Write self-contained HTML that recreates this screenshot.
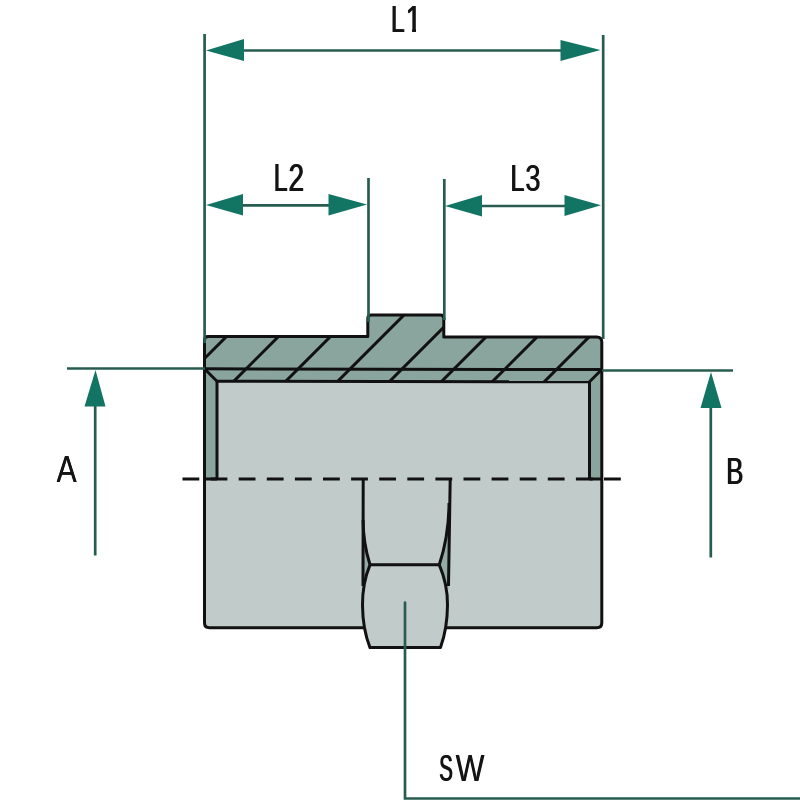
<!DOCTYPE html>
<html><head><meta charset="utf-8">
<style>
html,body{margin:0;padding:0;background:#fff;width:800px;height:800px;overflow:hidden}
svg{display:block}
text{font-family:"Liberation Sans",sans-serif;font-size:37.8px;fill:#141414}
</style></head>
<body>
<svg width="800" height="800" viewBox="0 0 800 800">
<defs>
<clipPath id="band">
<path d="M204.5 381 L204.5 340 Q204.5 336.5 208 336.5 L367.8 336.5 L367.8 318.5 Q367.8 315 371.3 315 L440.3 315 Q443.8 315 443.8 318.5 L443.8 337 L596.8 337 Q601.8 337 601.8 342 L601.8 382 Z"/>
</clipPath>
<clipPath id="c1" clipPathUnits="userSpaceOnUse"><rect x="-10" y="-40" width="60" height="36.7"/><rect x="9.3" y="-4" width="4.9" height="6"/></clipPath>
</defs>
<rect width="800" height="800" fill="#fff"/>

<!-- body fill -->
<path d="M204.5 479 L204.5 340 Q204.5 336.5 208 336.5 L367.8 336.5 L367.8 318.5 Q367.8 315 371.3 315 L440.3 315 Q443.8 315 443.8 318.5 L443.8 337 L596.8 337 Q601.8 337 601.8 342 L601.8 622.8 Q601.8 627.8 596.8 627.8 L209.5 627.8 Q204.5 627.8 204.5 622.8 Z" fill="#c1ccca"/>
<!-- dark band + walls -->
<path d="M204.5 479 L204.5 340 Q204.5 336.5 208 336.5 L367.8 336.5 L367.8 318.5 Q367.8 315 371.3 315 L440.3 315 Q443.8 315 443.8 318.5 L443.8 337 L596.8 337 Q601.8 337 601.8 342 L601.8 479 L589.5 479 L589.5 381.5 L217 381.5 L217 479 Z" fill="#8aa59d"/>

<!-- hex fill below body -->
<!-- hex small dark triangles -->
<path d="M363.1 520 Q363.1 543 370 564.8 C367 572 364.5 580 363.1 590 Z" fill="#94aaa5"/>
<path d="M449 503 Q449 535 439.3 564.8 C442.5 572 445.5 580 448.5 590 Z" fill="#94aaa5"/>

<!-- hatch lines -->
<g clip-path="url(#band)" stroke="#111" stroke-width="3" fill="none">
<path d="M263 300 L173 390 M315 300 L225 390 M367 300 L277 390 M419 300 L329 390 M471 300 L381 390 M523 300 L433 390 M574 300 L484 390 M626 300 L536 390"/>
</g>

<g stroke="#111" stroke-width="3" fill="none" stroke-linejoin="round">
<!-- outline -->
<path d="M204.5 479 L204.5 340 Q204.5 336.5 208 336.5 L367.8 336.5 L367.8 318.5 Q367.8 315 371.3 315 L440.3 315 Q443.8 315 443.8 318.5 L443.8 337 L596.8 337 Q601.8 337 601.8 342 L601.8 622.8 Q601.8 627.8 596.8 627.8 L209.5 627.8 Q204.5 627.8 204.5 622.8 Z"/>
<!-- thread line, bore top, chamfers, walls -->
<path d="M204.5 368.8 L601.8 369.6"/>
<path d="M217 381.3 L589.5 381.8"/>
<path d="M205 369.3 L217 381.3 M601.5 369.8 L589.5 381.8"/>
<path d="M217 381.3 L217 479 M589.5 381.8 L589.5 479"/>
<path d="M204.5 479 L217 479 M589.5 479 L601.8 479"/>
</g>
<path d="M370 564.8 C364.5 578 362.4 592 362.5 605 C362.6 620 365 635 370 647.6 L440.5 647.6 C445 635 447.4 620 447.5 605 C447.6 592 445 578 439.3 564.8 Z" fill="#c1ccca"/>
<g stroke="#111" stroke-width="3" fill="none" stroke-linejoin="round">
<!-- hex -->
<path d="M363.2 479 L363 586 M450.2 479 L448.5 586"/>
<path d="M363.1 520 Q363.1 543 370 564.8 M449 503 Q449 535 439.3 564.8"/>
<path d="M370 564.8 L439.3 564.8"/>
<path d="M370 564.8 C364.5 578 362.4 592 362.5 605 C362.6 620 365 635 370 647.6 L440.5 647.6 C445 635 447.4 620 447.5 605 C447.6 592 445 578 439.3 564.8"/>
</g>
<!-- centre dashed line -->
<path d="M182.5 479 L621 479" stroke="#111" stroke-width="3" stroke-dasharray="16.8 11.3" fill="none"/>

<!-- dimension lines -->
<g stroke="#285c50" stroke-width="2.7" fill="none">
<path d="M204.6 34 L204.6 343"/>
<path d="M603.2 35 L603.2 339"/>
<path d="M243 50.5 L561.5 50.5"/>
<path d="M242 205.3 L329.5 205.3"/>
<path d="M368.5 178 L368.5 322"/>
<path d="M444.3 179 L444.3 320"/>
<path d="M481 206 L565.5 206"/>
<path d="M67 368.5 L205 368.5"/>
<path d="M95.2 405 L95.2 555.5"/>
<path d="M602 370.5 L733 370.5"/>
<path d="M710.8 407 L710.8 557.5"/>
<path d="M405 602.5 L405 798.5 L800 798.5" stroke-linecap="round"/>
</g>
<g fill="#127462">
<polygon points="206,50.5 244,39 244,61"/>
<polygon points="600.5,50 560.5,40 560.5,61"/>
<polygon points="206,205 243,194 243,215.5"/>
<polygon points="367,204.5 328.5,194 328.5,215.5"/>
<polygon points="445,206 482,195 482,216.5"/>
<polygon points="601,205.3 564.5,195 564.5,216"/>
<polygon points="95.5,370 84.5,406.5 105.5,406.5"/>
<polygon points="711,372 700.5,408 721.5,408"/>
</g>

<!-- labels -->
<g class="lbl" opacity="0.999">
<g transform="matrix(0.6496,0,0,0.9923,390.570,31.800)"><text>L</text><text x="1.539">L</text></g>
<g transform="matrix(0.7459,0,0,0.9923,405.296,31.800)" clip-path="url(#c1)"><text>1</text><text x="1.341">1</text></g>
<g transform="matrix(0.6556,0,0,1.0192,273.251,190.900)"><text>L</text><text x="1.525">L</text></g>
<g transform="matrix(0.7420,0,0,1.0047,288.009,190.900)"><text>2</text><text x="1.213">2</text></g>
<g transform="matrix(0.6617,0,0,1.0000,509.932,191.250)"><text>L</text><text x="1.511">L</text></g>
<g transform="matrix(0.7189,0,0,0.9720,524.922,190.886)"><text>3</text><text x="1.252">3</text></g>
<g transform="matrix(0.7940,0,0,0.9904,56.401,482.000)"><text>A</text><text x="0.504">A</text></g>
<g transform="matrix(0.6807,0,0,0.9981,725.673,483.750)"><text>B</text><text x="1.469">B</text></g>
<g transform="matrix(0.5379,0,0,0.9607,438.859,780.540)"><text>S</text><text x="1.859">S</text></g>
<g transform="matrix(0.8028,0,0,0.9692,455.500,780.700)"><text>W</text><text x="0.623">W</text></g>
</g>
</svg>
</body></html>
